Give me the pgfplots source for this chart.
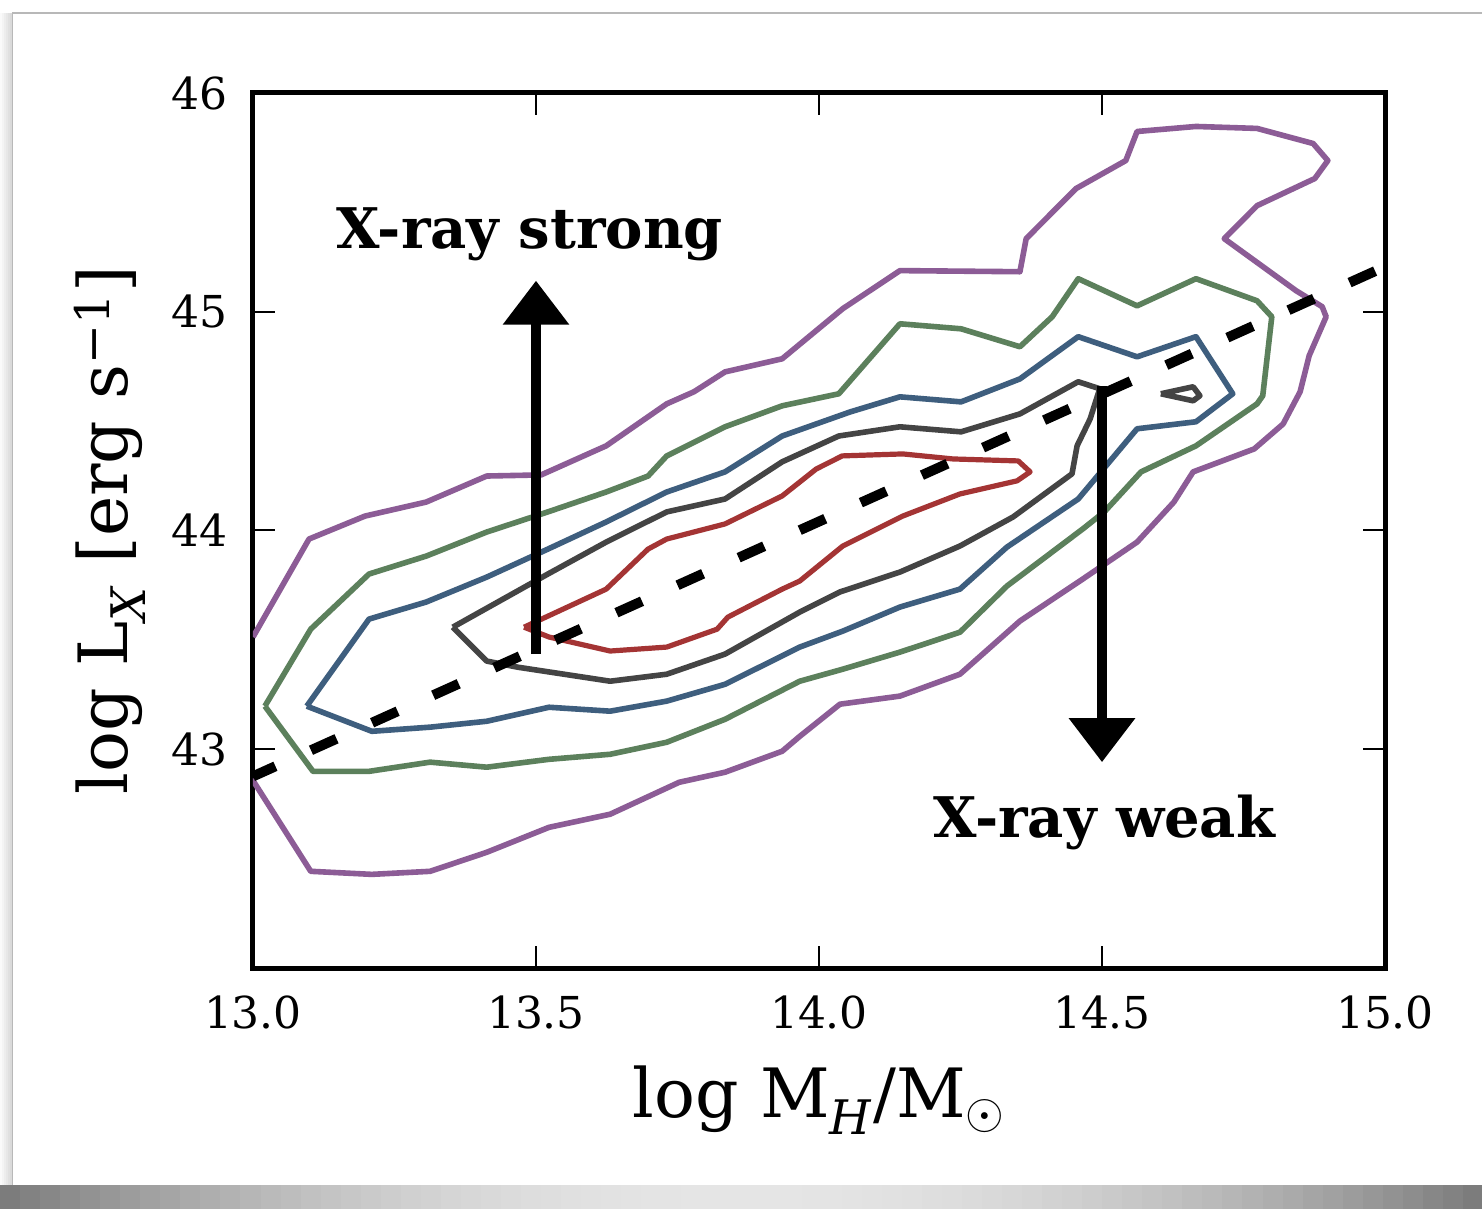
\documentclass[border=0pt]{standalone}
\usepackage{fontspec}
\setmainfont{DejaVu Serif}
\usepackage{pgfplots}
\pgfplotsset{compat=1.18}
\usetikzlibrary{arrows.meta}
\definecolor{cpurple}{RGB}{140,92,150}
\definecolor{cgreen}{RGB}{92,128,92}
\definecolor{cblue}{RGB}{62,94,126}
\definecolor{cgray}{RGB}{68,68,68}
\definecolor{cred}{RGB}{164,52,52}
\begin{document}
\begin{tikzpicture}
\useasboundingbox (-126.5pt,-120.5pt) rectangle (614.5pt,484pt);
\fill[white] (-126.5pt,-120.5pt) rectangle (614.5pt,484pt);
% soft left shadow of the card
\foreach \i in {0,...,5}{
  \pgfmathsetmacro{\xa}{-126.5+\i*1.05}
  \pgfmathsetmacro{\xb}{-126.5+(\i+1)*1.05+0.05}
  \pgfmathsetmacro{\dk}{2+\i*2.5}
  \fill[black!\dk] (\xa pt,-108.5pt) rectangle (\xb pt,477.5pt);
}
% bottom curled shadow
\foreach \i in {0,...,73}{
  \pgfmathsetmacro{\xa}{-126.5+\i*10.02}
  \pgfmathsetmacro{\xb}{-126.5+(\i+1)*10.02+0.2}
  \pgfmathsetmacro{\t}{(\i+0.5)/74-0.5}
  \pgfmathsetmacro{\dk}{10+170*\t*\t}
  \fill[black!\dk] (\xa pt,-120.5pt) rectangle (\xb pt,-108.5pt);
}
\draw[black!28, line width=0.8pt] (-120.25pt,-108.5pt) -- (-120.25pt,477.5pt) -- (614.5pt,477.5pt);
\begin{axis}[
  at={(0,0)}, anchor=south west,
  scale only axis, width=566pt, height=437.5pt,
  xmin=13, xmax=15, ymin=42, ymax=46,
  xtick={13,13.5,14,14.5,15}, ytick={43,44,45,46},
  tick pos=both, tick align=inside,
  major tick length=11pt,
  tick style={line width=1pt, black},
  axis line style={line width=2.5pt},
  /pgf/number format/assume math mode=true,
  xticklabel style={/pgf/number format/fixed, /pgf/number format/fixed zerofill, /pgf/number format/precision=1,
    font=\fontsize{22}{26}\selectfont, anchor=base, inner sep=0pt, yshift=-30pt},
  yticklabel style={font=\fontsize{22}{26}\selectfont, anchor=east, inner sep=0pt, xshift=-12.5pt},
  xlabel={log M\textsubscript{\textit{H}}/M$_\odot$},
  ylabel={log L\textsubscript{\textit{X}} [erg s\textsuperscript{−1}]},
  xlabel style={font=\fontsize{34}{40}\selectfont, at={(axis description cs:0.5,0)}, anchor=base, yshift=-74.5pt},
  ylabel style={font=\fontsize{34}{40}\selectfont, at={(axis description cs:-0.1263,0.5)}, anchor=center},
  every axis plot/.append style={line join=round, no markers},
]
% purple (outermost)
\addplot[draw=cpurple, line width=2.8pt] coordinates {
(13.000,43.513) (13.099,43.961) (13.198,44.066) (13.306,44.130) (13.413,44.249) (13.509,44.254)
(13.624,44.387) (13.731,44.579) (13.779,44.634) (13.834,44.725) (13.935,44.785) (14.042,45.014)
(14.143,45.188) (14.355,45.183) (14.366,45.334) (14.454,45.563) (14.542,45.691) (14.562,45.824)
(14.666,45.847) (14.774,45.838) (14.873,45.769) (14.899,45.691) (14.876,45.609) (14.774,45.485)
(14.716,45.334) (14.843,45.096) (14.889,45.023) (14.896,44.977) (14.866,44.799) (14.850,44.634)
(14.820,44.487) (14.769,44.373) (14.661,44.268) (14.627,44.130) (14.562,43.947) (14.466,43.778)
(14.355,43.586) (14.249,43.343) (14.143,43.243) (14.037,43.206) (13.966,43.059) (13.935,42.991)
(13.834,42.895) (13.753,42.849) (13.631,42.703) (13.523,42.643) (13.413,42.529) (13.313,42.442)
(13.210,42.428) (13.102,42.442) (13.002,42.849) (12.990,42.870)
};
% green
\addplot[draw=cgreen, line width=2.8pt] coordinates {
(13.021,43.197) (13.102,43.549) (13.205,43.801) (13.306,43.883) (13.413,43.993) (13.521,44.085)
(13.624,44.176) (13.698,44.249) (13.731,44.341) (13.834,44.474) (13.935,44.570) (14.035,44.625)
(14.143,44.945) (14.251,44.922) (14.355,44.840) (14.412,44.977) (14.458,45.151) (14.562,45.027)
(14.666,45.151) (14.774,45.050) (14.800,44.977) (14.784,44.616) (14.774,44.579) (14.666,44.387)
(14.569,44.268) (14.504,44.085) (14.466,44.007) (14.332,43.746) (14.249,43.535) (14.143,43.444)
(14.042,43.366) (13.966,43.311) (13.834,43.137) (13.731,43.032) (13.631,42.977) (13.523,42.954)
(13.413,42.918) (13.313,42.941) (13.205,42.899) (13.106,42.899) (13.021,43.197)
};
% blue
\addplot[draw=cblue, line width=2.8pt] coordinates {
(13.095,43.197) (13.205,43.595) (13.306,43.673) (13.413,43.787) (13.521,43.915) (13.624,44.039)
(13.731,44.176) (13.834,44.268) (13.935,44.432) (14.055,44.542) (14.143,44.611) (14.251,44.588)
(14.355,44.693) (14.458,44.886) (14.562,44.794) (14.666,44.886) (14.731,44.625) (14.666,44.497)
(14.562,44.465) (14.458,44.144) (14.332,43.924) (14.249,43.732) (14.143,43.650) (14.042,43.540)
(13.966,43.467) (13.834,43.297) (13.731,43.220) (13.631,43.174) (13.523,43.192) (13.413,43.128)
(13.313,43.101) (13.210,43.082) (13.095,43.197)
};
% dark gray
\addplot[draw=cgray, line width=2.8pt] coordinates {
(13.353,43.558) (13.521,43.801) (13.624,43.947) (13.731,44.085) (13.834,44.144) (13.935,44.314)
(14.035,44.432) (14.143,44.474) (14.251,44.451) (14.355,44.533) (14.458,44.680) (14.496,44.648)
(14.479,44.510) (14.456,44.387) (14.447,44.259) (14.343,44.062) (14.249,43.929) (14.143,43.810)
(14.037,43.719) (13.966,43.627) (13.834,43.435) (13.731,43.343) (13.631,43.311) (13.468,43.375)
(13.413,43.403) (13.353,43.558)
};
\addplot[draw=cgray, line width=2.8pt] coordinates {
(14.604,44.625) (14.661,44.657) (14.673,44.616) (14.661,44.593) (14.604,44.625)
};
% red (innermost)
\addplot[draw=cred, line width=2.6pt] coordinates {
(13.479,43.558) (13.624,43.732) (13.698,43.915) (13.731,43.961) (13.834,44.030) (13.935,44.158)
(13.995,44.281) (14.041,44.341) (14.148,44.350) (14.237,44.327) (14.352,44.318) (14.373,44.268)
(14.350,44.227) (14.249,44.167) (14.148,44.066) (14.042,43.929) (13.966,43.769) (13.935,43.732)
(13.839,43.604) (13.820,43.549) (13.731,43.467) (13.631,43.449) (13.523,43.513) (13.479,43.558)
};
% dashed relation
\addplot[black, line width=5pt, dash pattern=on 14pt off 19.5pt, dash phase=1.7pt] coordinates {(13,42.876) (15,45.206)};
% arrows
\addplot[black, line width=5pt, -{Triangle[width=32pt,length=22pt]}] coordinates {(13.5,43.435) (13.5,45.142)};
\addplot[black, line width=5pt, -{Triangle[width=32pt,length=22pt]}] coordinates {(14.5,44.66) (14.5,42.941)};
\node[font=\bfseries\fontsize{28}{33}\selectfont, anchor=base] at (axis cs:13.489,45.288) {X-ray strong};
\node[font=\bfseries\fontsize{28}{33}\selectfont, anchor=base] at (axis cs:14.504,42.597) {X-ray weak};
\end{axis}
\end{tikzpicture}
\end{document}
